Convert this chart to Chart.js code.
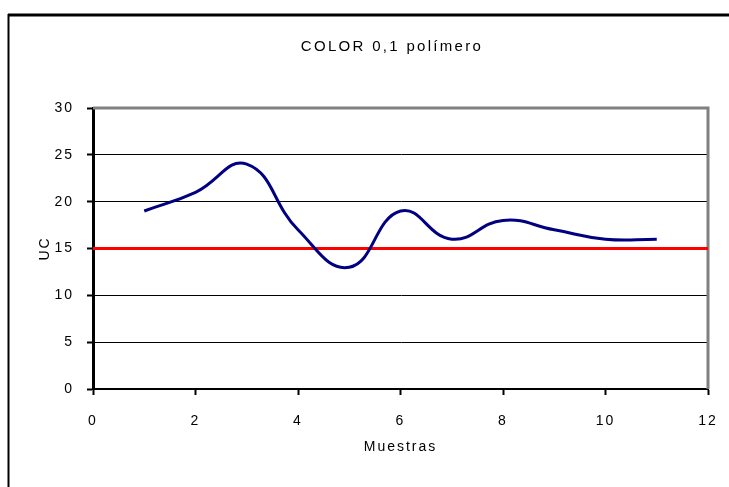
<!DOCTYPE html>
<html>
<head>
<meta charset="utf-8">
<script src="https://cdn.jsdelivr.net/npm/chart.js@4/dist/chart.umd.min.js"></script>
<style>
  html, body { margin: 0; padding: 0; background: #ffffff; }
  canvas { display: block; }
</style>
</head>
<body>
<canvas id="c" width="729" height="487"></canvas>
<script>
const chartTitle = "COLOR 0,1 polímero";
const xTitle = "Muestras";
const yTitle = "UC";
const samples = [1, 2, 3, 4, 5, 6, 7, 8, 9, 10, 11];
const ucValues = [19, 21, 24, 17, 13, 19, 16, 18, 17, 16, 16];
const limitX = [0, 12];
const limitValue = 15;
const xTicks = [0, 2, 4, 6, 8, 10, 12];
const yTicks = [0, 5, 10, 15, 20, 25, 30];

const FONT = '"Liberation Sans", Arial, sans-serif';

const framePlugin = {
  id: 'frame',
  beforeDraw(chart) {
    const ctx = chart.ctx;
    ctx.letterSpacing = '2px';
  },
  beforeDatasetsDraw(chart) {
    const ctx = chart.ctx;
    const a = chart.chartArea;
    ctx.save();
    // plot area border (gray top & right)
    ctx.strokeStyle = '#808080';
    ctx.lineWidth = 3;
    ctx.beginPath();
    ctx.moveTo(a.left, a.top);
    ctx.lineTo(a.right, a.top);
    ctx.lineTo(a.right, a.bottom);
    ctx.stroke();
    ctx.restore();
  },
  afterDraw(chart) {
    const ctx = chart.ctx;
    ctx.save();
    // outer chart frame (top and left)
    ctx.strokeStyle = '#000000';
    ctx.lineWidth = 3;
    ctx.beginPath();
    ctx.moveTo(8, 15);
    ctx.lineTo(729, 15);
    ctx.stroke();
    ctx.lineWidth = 2;
    ctx.beginPath();
    ctx.moveTo(8.5, 14);
    ctx.lineTo(8.5, 487);
    ctx.stroke();
    // title
    ctx.fillStyle = '#000000';
    ctx.font = '15px ' + FONT;
    ctx.letterSpacing = '2.3px';
    ctx.textAlign = 'center';
    ctx.textBaseline = 'middle';
    ctx.fillText(chartTitle, 392, 47);
    ctx.restore();
  }
};

new Chart(document.getElementById('c'), {
  type: 'line',
  data: {
    datasets: [
      {
        label: 'UC',
        data: samples.map((x, i) => ({ x: x, y: ucValues[i] })),
        borderColor: '#000080',
        borderWidth: 3,
        pointRadius: 0,
        tension: 0.45,
        fill: false
      },
      {
        label: 'Límite',
        data: limitX.map(x => ({ x: x, y: limitValue })),
        borderColor: '#ff0000',
        borderWidth: 3,
        pointRadius: 0,
        tension: 0,
        fill: false
      }
    ]
  },
  options: {
    responsive: false,
    animation: false,
    devicePixelRatio: 1,
    layout: { padding: { top: 108, left: 0, right: 21, bottom: 0 } },
    plugins: {
      legend: { display: false },
      tooltip: { enabled: false },
      title: { display: false }
    },
    scales: {
      x: {
        type: 'linear',
        min: 0,
        max: 12,
        afterFit(scale) {
          scale.height = 98;
          scale.paddingLeft = 0;
          scale.paddingRight = 0;
        },
        afterBuildTicks(scale) { scale.ticks = xTicks.map(v => ({ value: v })); },
        ticks: {
          color: '#000000',
          font: { family: FONT, size: 14 },
          padding: 18,
          maxRotation: 0
        },
        grid: {
          drawOnChartArea: false,
          drawTicks: true,
          tickLength: 6,
          tickColor: '#000000',
          tickWidth: 2
        },
        border: { display: true, color: '#000000', width: 2 },
        title: {
          display: true,
          text: xTitle,
          color: '#000000',
          font: { family: FONT, size: 14 },
          padding: { top: 0, bottom: 31 }
        }
      },
      y: {
        type: 'linear',
        min: 0,
        max: 30,
        afterFit(scale) {
          scale.width = 93;
          scale.paddingTop = 0;
          scale.paddingBottom = 0;
        },
        afterBuildTicks(scale) { scale.ticks = yTicks.map(v => ({ value: v })); },
        ticks: {
          color: '#000000',
          font: { family: FONT, size: 14 },
          padding: 13
        },
        grid: {
          drawOnChartArea: true,
          drawTicks: true,
          tickLength: 6,
          color: ctx => (ctx.tick && (ctx.tick.value === 30 || ctx.tick.value === 0)) ? 'rgba(0,0,0,0)' : '#000000',
          tickColor: '#000000',
          lineWidth: 1,
          tickWidth: 2
        },
        border: { display: true, color: '#000000', width: 3 },
        title: {
          display: true,
          text: yTitle,
          color: '#000000',
          font: { family: FONT, size: 14 },
          padding: { top: 37, bottom: 0 }
        }
      }
    }
  },
  plugins: [framePlugin]
});
</script>
</body>
</html>
